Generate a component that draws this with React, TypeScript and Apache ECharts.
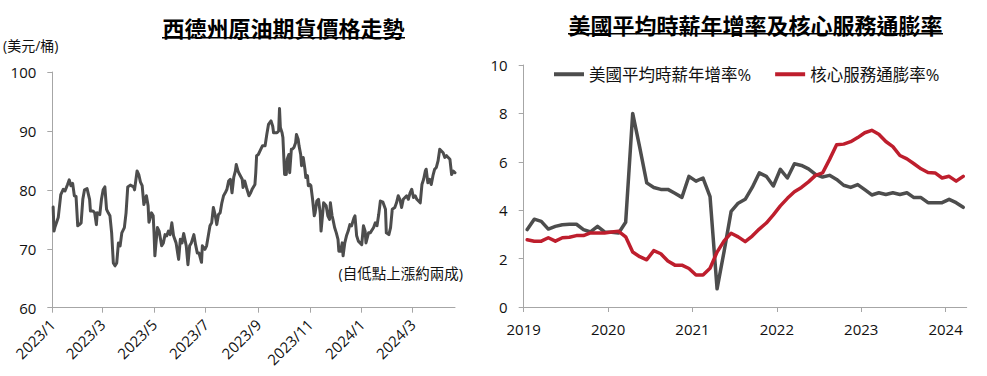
import React, { useEffect, useRef } from "react";
import * as echarts from "echarts";

// ---------- Left chart: WTI crude futures (USD / barrel) ----------
const wtiDates = [
  "2023-01-02","2023-01-03","2023-01-04","2023-01-08","2023-01-11","2023-01-14","2023-01-16","2023-01-19","2023-01-21","2023-01-23",
  "2023-01-25","2023-01-27","2023-01-29","2023-01-31","2023-02-02","2023-02-04","2023-02-06","2023-02-08","2023-02-11","2023-02-14",
  "2023-02-15","2023-02-18","2023-02-20","2023-02-22","2023-02-23","2023-02-26","2023-02-28","2023-03-02","2023-03-04","2023-03-06",
  "2023-03-08","2023-03-10","2023-03-12","2023-03-14","2023-03-16","2023-03-18","2023-03-20","2023-03-22","2023-03-24","2023-03-27",
  "2023-03-29","2023-03-31","2023-04-03","2023-04-07","2023-04-08","2023-04-11","2023-04-13","2023-04-15","2023-04-17","2023-04-19",
  "2023-04-22","2023-04-24","2023-04-25","2023-04-28","2023-04-30","2023-05-01","2023-05-02","2023-05-03","2023-05-05","2023-05-07",
  "2023-05-10","2023-05-12","2023-05-14","2023-05-16","2023-05-18","2023-05-20","2023-05-22","2023-05-24","2023-05-27","2023-05-30",
  "2023-06-01","2023-06-03","2023-06-05","2023-06-08","2023-06-10","2023-06-12","2023-06-14","2023-06-17","2023-06-19","2023-06-21",
  "2023-06-23","2023-06-26","2023-06-27","2023-06-30","2023-07-02","2023-07-04","2023-07-06","2023-07-08","2023-07-10","2023-07-12",
  "2023-07-14","2023-07-16","2023-07-18","2023-07-20","2023-07-22","2023-07-24","2023-07-26","2023-07-28","2023-07-30","2023-08-01",
  "2023-08-03","2023-08-05","2023-08-06","2023-08-08","2023-08-10","2023-08-13","2023-08-14","2023-08-16","2023-08-18","2023-08-21",
  "2023-08-23","2023-08-25","2023-08-28","2023-08-29","2023-08-30","2023-09-01","2023-09-04","2023-09-06","2023-09-09","2023-09-11",
  "2023-09-13","2023-09-16","2023-09-18","2023-09-19","2023-09-22","2023-09-23","2023-09-25","2023-09-26","2023-09-27","2023-09-29",
  "2023-09-30","2023-10-02","2023-10-04","2023-10-05","2023-10-07","2023-10-08","2023-10-10","2023-10-11","2023-10-13","2023-10-15",
  "2023-10-16","2023-10-18","2023-10-19","2023-10-21","2023-10-22","2023-10-24","2023-10-26","2023-10-27","2023-10-29","2023-10-30",
  "2023-11-01","2023-11-02","2023-11-04","2023-11-06","2023-11-07","2023-11-09","2023-11-11","2023-11-13","2023-11-14","2023-11-16",
  "2023-11-17","2023-11-20","2023-11-22","2023-11-24","2023-11-25","2023-11-27","2023-11-28","2023-11-30","2023-12-02","2023-12-04",
  "2023-12-05","2023-12-07","2023-12-09","2023-12-10","2023-12-12","2023-12-14","2023-12-16","2023-12-18","2023-12-20","2023-12-23",
  "2023-12-24","2023-12-26","2023-12-28","2024-01-01","2024-01-03","2024-01-05","2024-01-06","2024-01-09","2024-01-11","2024-01-15",
  "2024-01-17","2024-01-19","2024-01-21","2024-01-23","2024-01-26","2024-01-29","2024-01-30","2024-02-02","2024-02-04","2024-02-06",
  "2024-02-09","2024-02-11","2024-02-13","2024-02-15","2024-02-17","2024-02-19","2024-02-21","2024-02-23","2024-02-25","2024-02-27",
  "2024-02-29","2024-03-02","2024-03-04","2024-03-06","2024-03-08","2024-03-10","2024-03-12","2024-03-14","2024-03-16","2024-03-17",
  "2024-03-19","2024-03-21","2024-03-23","2024-03-25","2024-03-27","2024-03-29","2024-03-31","2024-04-02","2024-04-04","2024-04-06",
  "2024-04-08","2024-04-10","2024-04-12","2024-04-14","2024-04-16","2024-04-18","2024-04-20",
];
const wtiPrices = [
  77.1,73.0,73.6,75.3,79.2,80.1,79.8,80.9,81.7,80.7,
  81.1,79.0,78.9,73.9,74.1,74.4,78.4,80.0,80.2,78.4,
  76.4,76.4,76.1,74.1,76.1,75.8,78.4,80.0,80.5,76.7,
  76.1,75.6,72.7,67.6,67.1,67.6,71.0,70.5,72.7,73.6,
  76.1,80.5,80.8,80.5,80.0,83.2,82.6,81.3,80.7,77.5,
  79.0,77.3,74.5,76.1,75.6,72.7,68.8,70.5,73.6,73.0,
  70.5,71.0,72.4,72.2,73.0,72.4,74.4,72.2,71.0,68.2,
  71.6,71.0,72.6,70.5,67.3,70.5,71.0,72.4,70.7,69.3,
  69.3,67.7,70.5,69.9,70.5,72.2,73.9,74.4,77.0,75.8,
  74.1,75.8,76.1,77.8,79.0,79.5,80.1,81.5,81.8,79.5,
  82.1,83.2,84.3,83.2,82.6,81.8,80.4,81.5,80.4,79.0,
  79.5,80.2,80.9,82.9,85.8,86.0,86.9,87.5,87.5,89.4,
  91.1,91.7,90.8,89.7,89.7,89.7,90.0,93.8,90.6,89.7,
  88.9,82.6,82.6,85.2,86.0,82.9,86.9,86.9,87.2,88.0,
  89.4,88.6,87.5,86.0,84.1,85.5,83.5,82.1,82.4,80.7,
  80.9,80.7,78.4,75.6,76.1,78.1,78.4,76.1,73.0,76.1,
  77.8,77.3,75.6,75.0,77.8,75.6,75.0,73.6,72.7,71.6,
  69.6,69.6,71.0,68.8,71.0,72.2,73.0,74.1,73.9,75.3,
  75.6,72.2,71.3,70.7,73.9,73.0,71.0,72.7,72.7,73.6,
  74.4,73.9,75.8,78.1,77.9,76.7,72.7,72.4,73.6,76.7,
  77.0,77.8,79.0,78.4,77.0,78.4,78.7,79.0,78.4,79.5,
  80.1,78.7,79.0,78.4,78.1,77.8,80.9,81.8,83.2,83.5,
  81.2,81.8,80.9,82.4,83.5,83.8,84.9,86.9,86.6,86.3,
  85.5,85.8,85.5,85.2,82.6,83.2,82.9,
];
const wtiTickLabels = ["2023/1", "2023/3", "2023/5", "2023/7", "2023/9", "2023/11", "2024/1", "2024/3"];
const wtiAxisStart = "2023-01-01";
const wtiAxisEnd = "2024-04-20";
const wtiYTicks = [60, 70, 80, 90, 100];

// ---------- Right chart: US avg hourly earnings YoY vs core services inflation ----------
const months = [
  "2019-01","2019-02","2019-03","2019-04","2019-05","2019-06","2019-07","2019-08","2019-09","2019-10","2019-11","2019-12",
  "2020-01","2020-02","2020-03","2020-04","2020-05","2020-06","2020-07","2020-08","2020-09","2020-10","2020-11","2020-12",
  "2021-01","2021-02","2021-03","2021-04","2021-05","2021-06","2021-07","2021-08","2021-09","2021-10","2021-11","2021-12",
  "2022-01","2022-02","2022-03","2022-04","2022-05","2022-06","2022-07","2022-08","2022-09","2022-10","2022-11","2022-12",
  "2023-01","2023-02","2023-03","2023-04","2023-05","2023-06","2023-07","2023-08","2023-09","2023-10","2023-11","2023-12",
  "2024-01","2024-02","2024-03",
];
const wageGrowth = [
  3.2, 3.63, 3.54, 3.22, 3.33, 3.4, 3.42, 3.42, 3.2, 3.1, 3.33, 3.1,
  3.09, 3.06, 3.5, 8.0, 6.6, 5.13, 4.94, 4.86, 4.86, 4.7, 4.53, 5.4,
  5.2, 5.33, 4.56, 0.75, 2.3, 3.95, 4.29, 4.45, 4.94, 5.54, 5.4, 5.0,
  5.69, 5.33, 5.92, 5.85, 5.71, 5.48, 5.37, 5.44, 5.27, 5.03, 4.94, 5.06,
  4.85, 4.63, 4.72, 4.65, 4.72, 4.65, 4.72, 4.52, 4.52, 4.31, 4.31, 4.31,
  4.45, 4.31, 4.12,
];
const coreServices = [
  2.78, 2.72, 2.72, 2.86, 2.72, 2.86, 2.88, 2.95, 2.95, 3.06, 3.06, 3.06,
  3.1, 3.13, 2.9, 2.27, 2.08, 1.95, 2.33, 2.2, 1.9, 1.73, 1.73, 1.59,
  1.32, 1.32, 1.6, 2.27, 2.73, 3.05, 2.9, 2.7, 2.93, 3.22, 3.47, 3.81,
  4.18, 4.49, 4.76, 4.94, 5.17, 5.44, 5.54, 6.1, 6.7, 6.73, 6.83, 7.0,
  7.2, 7.3, 7.14, 6.84, 6.63, 6.26, 6.12, 5.92, 5.71, 5.56, 5.54, 5.33,
  5.4, 5.2, 5.4,
];
const yearTicks = [2019, 2020, 2021, 2022, 2023, 2024];
const rateYTicks = [0, 2, 4, 6, 8, 10];

const seriesNames = ["美國平均時薪年增率%", "核心服務通膨率%"];
const titles = ["西德州原油期貨價格走勢", "美國平均時薪年增率及核心服務通膨率"];
const unitLabel = "(美元/桶)";
const noteLabel = "(自低點上漲約兩成)";

const NUM_FONT = "'Open Sans', 'Noto Sans CJK TC', sans-serif";
const CJK_FONT = "'Noto Sans CJK TC', 'Noto Sans CJK SC', sans-serif";
const GRAY = "#4d4d4d";
const RED = "#be1e2d";
const AXIS = "#a6a6a6";

const dayIndex = (s: string) => {
  const [y, m, d] = s.split(/[-/]/).map(Number);
  const [y0, m0, d0] = wtiAxisStart.split("-").map(Number);
  return (Date.UTC(y, m - 1, d || 1) - Date.UTC(y0, m0 - 1, d0)) / 86400000;
};
const monthPos = (s: string) => {
  const [y, m] = s.split("-").map(Number);
  return y + (m - 0.5) / 12;
};

export default function App() {
  const ref = useRef<HTMLDivElement>(null);
  useEffect(() => {
    if (!ref.current) return;
    const chart = echarts.init(ref.current, undefined, { renderer: "svg" });
    const tickDays = wtiTickLabels.map((l) => dayIndex(l));
    const axisCommon = {
      axisLine: { show: true, lineStyle: { color: AXIS, width: 1 } },
      splitLine: { show: false },
    };
    const option: any = {
      animation: false,
      backgroundColor: "#ffffff",
      grid: [
        { left: 52.3, top: 72, width: 402.7, height: 235.7 },
        { left: 523.7, top: 65, width: 443, height: 242 },
      ],
      xAxis: [
        {
          gridIndex: 0,
          type: "value",
          min: 0,
          max: dayIndex(wtiAxisEnd),
          ...axisCommon,
          axisTick: { show: true, customValues: tickDays, length: 5, lineStyle: { color: AXIS } },
          axisLabel: {
            customValues: tickDays,
            rotate: 45,
            margin: 14,
            fontSize: 15,
            color: "#111",
            fontFamily: NUM_FONT,
            formatter: (v: number) => {
              const i = tickDays.findIndex((t) => Math.abs(t - v) < 0.5);
              return i >= 0 ? wtiTickLabels[i] : "";
            },
          },
        },
        {
          gridIndex: 1,
          type: "value",
          min: yearTicks[0],
          max: 2024.25,
          ...axisCommon,
          axisTick: { show: true, customValues: yearTicks, length: 5, lineStyle: { color: AXIS } },
          axisLabel: {
            customValues: yearTicks,
            margin: 14,
            fontSize: 15,
            color: "#111",
            fontFamily: NUM_FONT,
            formatter: (v: number) => String(Math.round(v)),
          },
        },
      ],
      yAxis: [
        {
          gridIndex: 0,
          type: "value",
          min: wtiYTicks[0],
          max: wtiYTicks[wtiYTicks.length - 1],
          interval: 10,
          ...axisCommon,
          axisTick: { show: true, length: 5, lineStyle: { color: AXIS } },
          axisLabel: { margin: 16, fontSize: 15, color: "#111", fontFamily: NUM_FONT },
        },
        {
          gridIndex: 1,
          type: "value",
          min: rateYTicks[0],
          max: rateYTicks[rateYTicks.length - 1],
          interval: 2,
          ...axisCommon,
          axisTick: { show: true, length: 5, lineStyle: { color: AXIS } },
          axisLabel: { margin: 16, fontSize: 15, color: "#111", fontFamily: NUM_FONT },
        },
      ],
      legend: {
        data: seriesNames,
        left: 549,
        top: 61,
        itemGap: 24,
        itemWidth: 30,
        itemHeight: 4,
        icon: "rect",
        textStyle: { fontSize: 16.5, color: "#111", fontFamily: NUM_FONT },
      },
      series: [
        {
          type: "line",
          xAxisIndex: 0,
          yAxisIndex: 0,
          data: wtiDates.map((d, i) => [dayIndex(d), wtiPrices[i]]),
          showSymbol: false,
          symbol: "none",
          lineStyle: { color: GRAY, width: 3, join: "round", cap: "round" },
          itemStyle: { color: GRAY },
        },
        {
          name: seriesNames[0],
          type: "line",
          xAxisIndex: 1,
          yAxisIndex: 1,
          data: months.map((m, i) => [monthPos(m), wageGrowth[i]]),
          showSymbol: false,
          symbol: "none",
          lineStyle: { color: GRAY, width: 3.5, join: "round", cap: "round" },
          itemStyle: { color: GRAY },
        },
        {
          name: seriesNames[1],
          type: "line",
          xAxisIndex: 1,
          yAxisIndex: 1,
          data: months.map((m, i) => [monthPos(m), coreServices[i]]),
          showSymbol: false,
          symbol: "none",
          lineStyle: { color: RED, width: 3.5, join: "round", cap: "round" },
          itemStyle: { color: RED },
        },
      ],
      graphic: [
        {
          type: "text",
          x: 283.5,
          y: 27,
          style: { text: titles[0], fontSize: 22, fontWeight: "bold", fontFamily: CJK_FONT, fill: "#000", align: "center", verticalAlign: "middle" },
        },
        { type: "rect", shape: { x: 162, y: 37, width: 243, height: 1.5 }, style: { fill: "#000" } },
        {
          type: "text",
          x: 755.5,
          y: 23.5,
          style: { text: titles[1], fontSize: 22, fontWeight: "bold", fontFamily: CJK_FONT, fill: "#000", align: "center", verticalAlign: "middle" },
        },
        { type: "rect", shape: { x: 568, y: 33, width: 375, height: 1.5 }, style: { fill: "#000" } },
        {
          type: "text",
          x: 3,
          y: 45,
          style: { text: unitLabel, fontSize: 14, fontFamily: NUM_FONT, fill: "#111", align: "left", verticalAlign: "middle" },
        },
        {
          type: "text",
          x: 463,
          y: 273,
          style: { text: noteLabel, fontSize: 14.5, fontFamily: NUM_FONT, fill: "#111", align: "right", verticalAlign: "middle" },
        },
      ],
    };
    chart.setOption(option);
    return () => chart.dispose();
  }, []);
  return (
    <div
      ref={ref}
      style={{ position: "fixed", left: 0, top: 0, width: 987, height: 376, background: "#fff" }}
    />
  );
}
